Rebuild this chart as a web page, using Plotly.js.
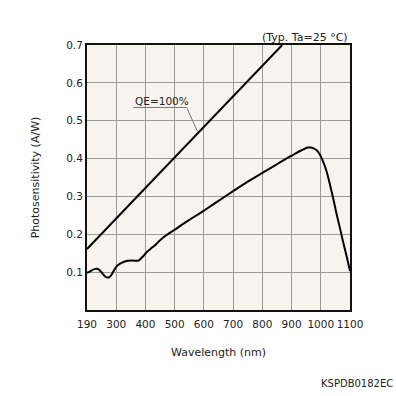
<!DOCTYPE html>
<html><head><meta charset="utf-8">
<script src="https://cdn.plot.ly/plotly-3.0.1.min.js"></script>
<style>html,body{margin:0;padding:0;background:#fff;}#chart{width:396px;height:396px;}</style>
</head><body><div id="chart"></div>
<script>
// Photosensitivity curve (wavelength nm, A/W)
const wavelength = [200, 208, 215, 225, 234, 242, 250, 258, 266, 274, 280, 287, 295, 303, 312, 320, 330, 340, 355, 368, 375, 382, 392, 403, 418, 434, 447, 460, 482, 506, 530, 560, 595, 632, 655, 700, 750, 800, 850, 885, 906, 929, 945, 955, 965, 975, 986, 997, 1008, 1020, 1031, 1043, 1054, 1066, 1077, 1089, 1100];
const sensitivity = [0.098, 0.101, 0.104, 0.108, 0.109, 0.106, 0.099, 0.092, 0.087, 0.086, 0.089, 0.097, 0.108, 0.117, 0.122, 0.125, 0.128, 0.130, 0.131, 0.130, 0.130, 0.134, 0.142, 0.152, 0.162, 0.172, 0.182, 0.191, 0.203, 0.215, 0.228, 0.243, 0.260, 0.279, 0.291, 0.314, 0.339, 0.362, 0.385, 0.401, 0.410, 0.420, 0.426, 0.429, 0.429, 0.427, 0.422, 0.410, 0.392, 0.366, 0.333, 0.293, 0.254, 0.215, 0.178, 0.140, 0.103];
// QE = 100% line
const qeWavelength = [200, 868];
const qeSensitivity = [0.161, 0.700];
// Axis ticks
const xTickVals = [200, 300, 400, 500, 600, 700, 800, 900, 1000, 1100];
const xTickText = ['190', '300', '400', '500', '600', '700', '800', '900', '1000', '1100'];
const yTickVals = [0.1, 0.2, 0.3, 0.4, 0.5, 0.6, 0.7];
const yTickText = ['0.1', '0.2', '0.3', '0.4', '0.5', '0.6', '0.7'];

const font = 'DejaVu Sans, Verdana, sans-serif';
const traces = [
  {x: qeWavelength, y: qeSensitivity, mode: 'lines', line: {color: '#000', width: 2}, hoverinfo: 'skip'},
  {x: wavelength, y: sensitivity, mode: 'lines', line: {color: '#000', width: 2, shape: 'spline', smoothing: 0.3}, hoverinfo: 'skip'}
];
const layout = {
  width: 396, height: 396,
  margin: {l: 87, r: 46, t: 45, b: 86},
  paper_bgcolor: '#ffffff',
  plot_bgcolor: '#f7f5ee',
  showlegend: false,
  font: {family: font, size: 11, color: '#222'},
  xaxis: {
    range: [200, 1100], tickmode: 'array', tickvals: xTickVals, ticktext: xTickText, tickangle: 0,
    showgrid: true, gridcolor: '#9a9a9a', gridwidth: 1,
    showline: true, linecolor: '#111', linewidth: 2, mirror: true,
    ticks: 'outside', ticklen: 3, tickcolor: 'rgba(0,0,0,0)', zeroline: false, fixedrange: true,
    tickfont: {family: font, size: 10.5, color: '#222'},
    title: {text: 'Wavelength (nm)', font: {family: font, size: 11, color: '#222'}, standoff: 20},
    automargin: false
  },
  yaxis: {
    range: [0, 0.7], tickmode: 'array', tickvals: yTickVals, ticktext: yTickText,
    showgrid: true, gridcolor: '#9a9a9a', gridwidth: 1,
    showline: true, linecolor: '#111', linewidth: 2, mirror: true,
    ticks: '', zeroline: false, fixedrange: true,
    tickfont: {family: font, size: 10.5, color: '#222'},
    title: {text: 'Photosensitivity (A/W)', font: {family: font, size: 11, color: '#222'}, standoff: 24},
    automargin: false
  },
  shapes: [
    {type: 'line', xref: 'x', yref: 'y', x0: 358, x1: 541, y0: 0.535, y1: 0.535, line: {color: '#777', width: 1}},
    {type: 'line', xref: 'x', yref: 'y', x0: 541, x1: 578, y0: 0.535, y1: 0.472, line: {color: '#777', width: 1}}
  ],
  annotations: [
    {text: 'QE=100%', xref: 'x', yref: 'y', x: 356, y: 0.535, xanchor: 'left', yanchor: 'bottom', showarrow: false, font: {family: font, size: 10.5, color: '#222'}, yshift: -2},
    {text: ' ', xref: 'x', yref: 'y', x: 580, y: 0.468, axref: 'x', ayref: 'y', ax: 568, ay: 0.490, showarrow: true, arrowhead: 2, arrowsize: 0.8, arrowwidth: 1.2, arrowcolor: '#111', standoff: 0},
    {text: '(Typ. Ta=25 \u00B0C)', xref: 'paper', yref: 'paper', x: 1, y: 1, xanchor: 'right', yanchor: 'bottom', yshift: -1, showarrow: false, font: {family: font, size: 11, color: '#222'}},
    {text: 'KSPDB0182EC', xref: 'paper', yref: 'paper', x: 1, y: 0, xanchor: 'right', yanchor: 'middle', yshift: -73, xshift: 45, showarrow: false, font: {family: font, size: 10, color: '#222'}}
  ]
};
Plotly.newPlot('chart', traces, layout, {displayModeBar: false, staticPlot: true});
</script>
</body></html>
